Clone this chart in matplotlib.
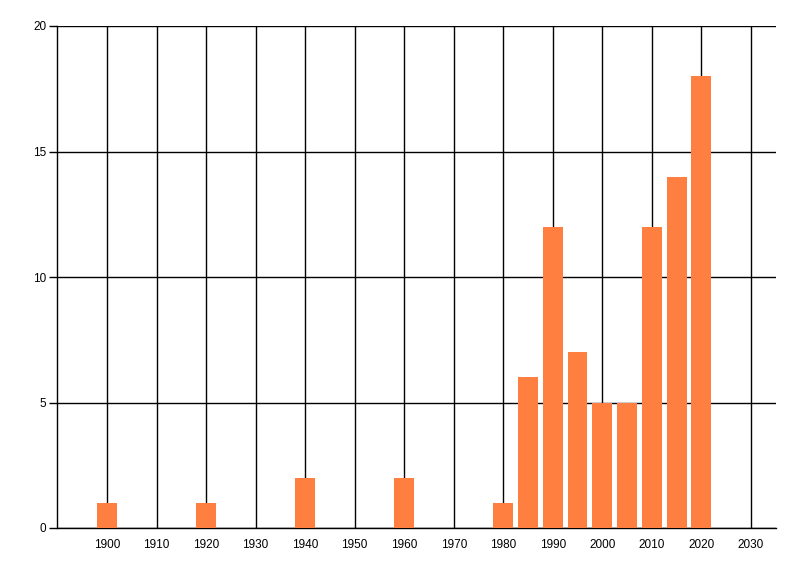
import matplotlib
matplotlib.use('Agg')
import matplotlib.pyplot as plt

years = [1900, 1920, 1940, 1960, 1980, 1985, 1990, 1995, 2000, 2005, 2010, 2015, 2020]
counts = [1, 1, 2, 2, 1, 6, 12, 7, 5, 5, 12, 14, 18]
xticks = list(range(1900, 2031, 10))
yticks = [0, 5, 10, 15, 20]

plt.rcParams['font.family'] = ['Liberation Sans', 'DejaVu Sans']
fig = plt.figure(figsize=(8, 5.76), dpi=100)
ax = fig.add_axes([57.5 / 800, 48 / 576, (775.7 - 57.5) / 800, (528 - 26) / 576])

ax.bar(years, counts, width=4, color='#ff7f41', zorder=3)

ax.set_xlim(1890, 2035)
ax.set_ylim(0, 20)
ax.set_xticks(xticks)
ax.set_yticks(yticks)
ax.grid(True, color='black', linewidth=1.0)
ax.set_axisbelow(True)

for side in ['top', 'right']:
    ax.spines[side].set_visible(False)
for side in ['left', 'bottom']:
    ax.spines[side].set_linewidth(1.0)
    ax.spines[side].set_color('black')

ax.tick_params(axis='y', length=6, width=1.0, pad=2, labelsize=8.5)
ax.tick_params(axis='x', length=0, pad=8, labelsize=8.5)

fig.savefig('out.png', dpi=100)
